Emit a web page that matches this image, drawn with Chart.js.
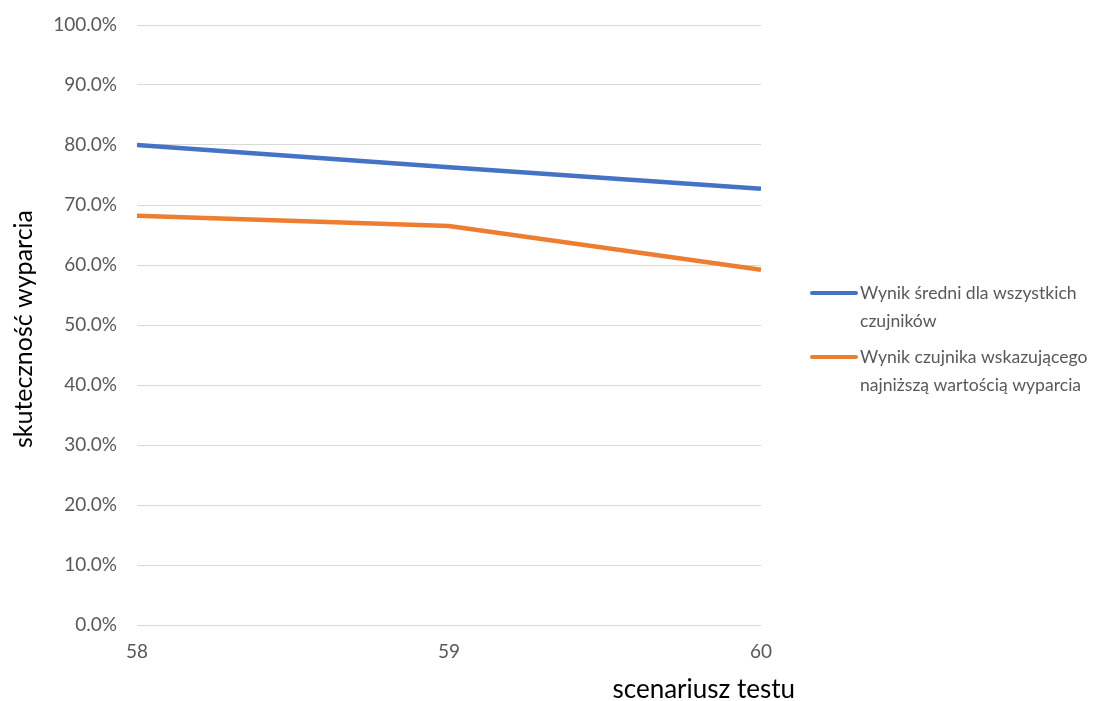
<!DOCTYPE html>
<html>
<head>
<meta charset="utf-8">
<script src="https://cdn.jsdelivr.net/npm/chart.js@4"></script>
<style>
  html, body { margin: 0; padding: 0; background: #fff; }
</style>
</head>
<body>
<canvas id="chart" width="1119" height="701"></canvas>
<script>
// data
var categories = ['58', '59', '60'];
var avgValues = [80.0, 76.3, 72.7];
var lowestValues = [68.2, 66.5, 59.2];
var yTicks = [0, 10, 20, 30, 40, 50, 60, 70, 80, 90, 100];
var seriesNames = [
    ['Wynik średni dla wszystkich', 'czujników'],
    ['Wynik czujnika wskazującego', 'najniższą wartością wyparcia']
];
var seriesColors = ['#4472C4', '#ED7D31'];
var xTitle = 'scenariusz testu';
var yTitle = 'skuteczność wyparcia';

var FONT = 'Lato, "Open Sans", sans-serif';

// axis titles + wrapped legend on the right
var extras = {
    id: 'extras',
    afterDraw: function (chart) {
        var ctx = chart.ctx;
        var area = chart.chartArea;
        ctx.save();
        ctx.fillStyle = '#000';
        ctx.textBaseline = 'middle';

        ctx.font = '26px ' + FONT;
        ctx.textAlign = 'right';
        ctx.fillText(xTitle, area.right + 34, 690);

        ctx.font = '25px ' + FONT;
        ctx.save();
        ctx.translate(24, 329);
        ctx.rotate(-Math.PI / 2);
        ctx.textAlign = 'center';
        ctx.fillText(yTitle, 0, 0);
        ctx.restore();

        ctx.font = '17.6px ' + FONT;
        ctx.fillStyle = '#595959';
        ctx.textAlign = 'left';
        var y = 293;
        chart.data.datasets.forEach(function (ds, i) {
            ctx.strokeStyle = ds.borderColor;
            ctx.lineWidth = 4;
            ctx.lineCap = 'round';
            ctx.beginPath();
            ctx.moveTo(812, y);
            ctx.lineTo(856, y);
            ctx.stroke();
            seriesNames[i].forEach(function (line, j) {
                ctx.fillText(line, 860, y + j * 28);
            });
            y += seriesNames[i].length * 28 + 8;
        });
        ctx.restore();
    }
};

var ctx = document.getElementById('chart').getContext('2d');
var chart = new Chart(ctx, {
    type: 'line',
    data: {
        labels: categories,
        datasets: [
            {
                label: seriesNames[0].join(' '),
                data: avgValues,
                borderColor: seriesColors[0],
                backgroundColor: seriesColors[0],
                borderWidth: 4.5,
                pointRadius: 0,
                tension: 0
            },
            {
                label: seriesNames[1].join(' '),
                data: lowestValues,
                borderColor: seriesColors[1],
                backgroundColor: seriesColors[1],
                borderWidth: 4.5,
                pointRadius: 0,
                tension: 0
            }
        ]
    },
    options: {
        responsive: false,
        animation: false,
        layout: {
            padding: { top: 25, right: 358, bottom: 0, left: 0 }
        },
        plugins: {
            legend: { display: false },
            tooltip: { enabled: false }
        },
        scales: {
            x: {
                type: 'category',
                offset: false,
                grid: { display: false, drawTicks: false },
                border: { display: false },
                ticks: {
                    color: '#595959',
                    font: { family: FONT, size: 19 },
                    padding: 15,
                    maxRotation: 0
                },
                afterFit: function (scale) {
                    scale.height = 76;
                }
            },
            y: {
                min: 0,
                max: 100,
                afterBuildTicks: function (scale) {
                    scale.ticks = yTicks.map(function (v) { return { value: v }; });
                },
                grid: { color: '#D9D9D9', lineWidth: 1, drawTicks: true, tickLength: 12, tickColor: 'rgba(0,0,0,0)' },
                border: { display: false },
                ticks: {
                    color: '#595959',
                    font: { family: FONT, size: 19 },
                    padding: 8,
                    callback: function (v) { return v.toFixed(1) + '%'; }
                },
                afterFit: function (scale) {
                    scale.width = 137;
                }
            }
        }
    },
    plugins: [extras]
});
</script>
</body>
</html>
